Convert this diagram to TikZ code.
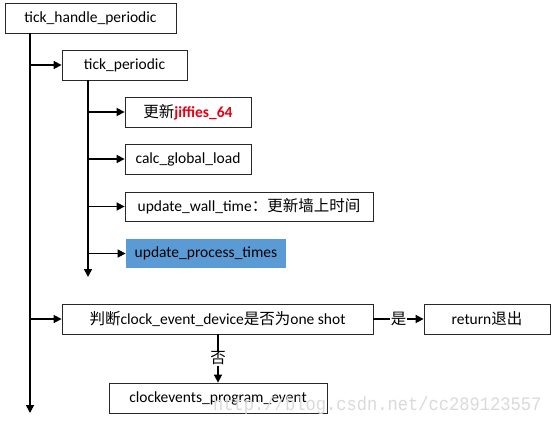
\documentclass[tikz,border=0pt]{standalone}
\usepackage{fontspec}
\setmainfont{Carlito}
\newfontfamily\cjk{Noto Sans CJK SC}
\newfontfamily\wmfont{Liberation Mono}
\usetikzlibrary{arrows.meta}
\definecolor{procblue}{RGB}{91,155,213}
\definecolor{jred}{RGB}{230,0,18}
\definecolor{boxline}{RGB}{40,40,40}
\definecolor{wmgray}{RGB}{218,218,218}
\begin{document}
\begin{tikzpicture}[x=1pt,y=-1pt,
  fbox/.style={draw=boxline,line width=0.8pt,inner sep=0pt,minimum height=30pt,
    font=\fontsize{15.5}{18}\selectfont,text=black},
  conn/.style={line width=1.6pt,-{Triangle[length=8pt,width=8pt]}},
  lbl/.style={fill=white,inner sep=1pt,font=\cjk\fontsize{15.5}{18}\selectfont}]
\useasboundingbox (0,0) rectangle (556,423);
\fill[white] (0,0) rectangle (556,423);
% boxes
\node[fbox,minimum width=171pt] (A) at (90.5,18) {tick\_handle\_periodic};
\node[fbox,minimum width=125pt] (B) at (124.5,65) {tick\_periodic};
\node[fbox,minimum width=126pt] (C) at (188,112) {{\cjk 更新}\textcolor{jred}{\bfseries jiffies\_64}};
\node[fbox,minimum width=126pt] (D) at (188,159) {calc\_global\_load};
\node[fbox,minimum width=248pt,minimum height=29pt] (E) at (249,206.5) {update\_wall\_time{\cjk ：更新墙上时间}};
\node[fbox,draw=none,fill=procblue,minimum width=160pt,minimum height=29pt] (F) at (206,253.5) {update\_process\_times};
\node[fbox,minimum width=311pt] (G) at (217.5,319) {{\cjk 判断}clock\_event\_device{\cjk 是否为}one shot};
\node[fbox,minimum width=126pt] (H) at (487,319) {return{\cjk 退出}};
\node[fbox,minimum width=218pt] (I) at (218,398) {clockevents\_program\_event};
% main trunk
\coordinate (mtop) at (30,33);
\coordinate (mbot) at (30,413);
\coordinate (m1) at (30,65);
\coordinate (m2) at (30,319);
\draw[conn] (mtop) -- (mbot);
\draw[conn] (m1) -- (B.west);
\draw[conn] (m2) -- (G.west);
% second trunk
\coordinate (stop) at (88,80);
\coordinate (sbot) at (88,277);
\coordinate (s1) at (88,112);
\coordinate (s2) at (88,159);
\coordinate (s3) at (88,206.5);
\coordinate (s4) at (88,253.5);
\draw[conn] (stop) -- (sbot);
\draw[conn] (s1) -- (C.west);
\draw[conn] (s2) -- (D.west);
\draw[conn] (s3) -- (E.west);
\draw[conn] (s4) -- (F.west);
% decision branches
\draw[conn] (G.east) -- node[lbl] (yes) {是} (H.west);
\coordinate (gb) at (218,334);
\draw[conn] (gb) -- node[lbl] (no) {否} (I.north);
% watermark
\node[text=wmgray,font=\wmfont\fontsize{19}{20}\selectfont,anchor=base west,inner sep=0pt,xscale=0.9] (wm) at (213,410) {http://blog.csdn.net/cc289123557};
\end{tikzpicture}
\end{document}
